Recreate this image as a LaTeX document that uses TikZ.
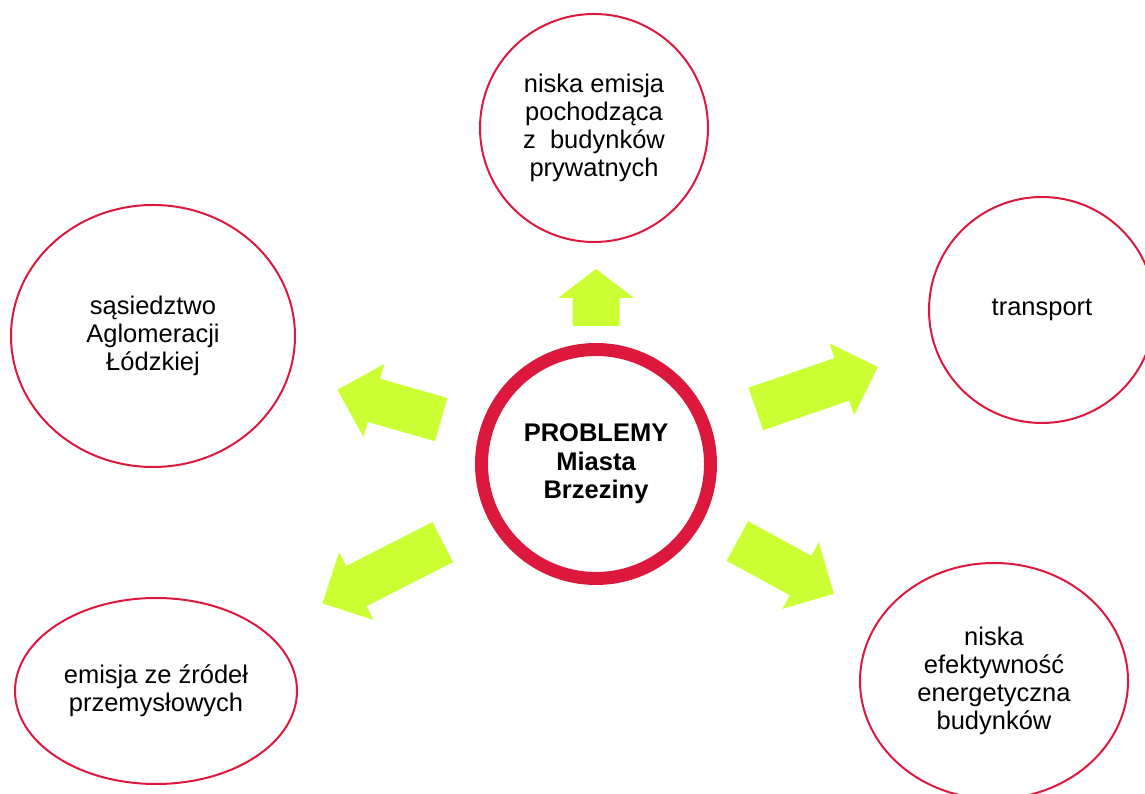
\documentclass[tikz,border=0pt]{standalone}
\usepackage{fontspec}
\setmainfont{Liberation Sans}
\usetikzlibrary{shapes.geometric,calc}
\definecolor{ringred}{RGB}{220,25,60}
\definecolor{limegreen}{RGB}{204,255,51}
\tikzset{
  problem/.style={ellipse,draw=ringred,line width=2pt,align=center,inner sep=0pt},
  arrowfill/.style={fill=limegreen}
}
\begin{document}
\begin{tikzpicture}[x=1pt,y=1pt,font=\fontsize{25.5}{28}\selectfont]
        \useasboundingbox (0,0) rectangle (1145,794);
        \node[circle,draw=ringred,line width=13pt,minimum size=229pt,align=center,font=\fontsize{25.5}{28.5}\selectfont\bfseries] (main) at (596,330) {PROBLEMY\\Miasta\\Brzeziny};
        \node[problem,minimum width=228pt,minimum height=228pt] (emisja) at (594,666) {niska emisja\\pochodząca\\z~ budynków\\prywatnych};
        \node[problem,minimum width=226pt,minimum height=226pt] (transport) at (1042,484) {transport};
        \node[problem,minimum width=284pt,minimum height=262pt] (sasiedztwo) at (153,458) {sąsiedztwo\\Aglomeracji\\Łódzkiej};
        \node[problem,minimum width=282pt,minimum height=186pt] (przemysl) at (156,103) {emisja ze źródeł\\przemysłowych};
        \node[problem,minimum width=268pt,minimum height=236pt] (efektywnosc) at (994,113) {niska\\efektywność\\energetyczna\\budynków};
        % arrows: angle/distance/length/head
        \foreach \ang/\dist/\len/\hl/\hw/\sw in {90/138/57/29/38/23.5,19/169/129/38/38/22.5,164/161/108/38/38/22.5,207/172/135/38/38/22.5,-28.6/161/110/38/38/22.5}
            \fill[arrowfill,shift={($(main.center)+(\ang:\dist)$)},rotate=\ang] (0,-\sw)--(\len-\hl,-\sw)--(\len-\hl,-\hw)--(\len,0)--(\len-\hl,\hw)--(\len-\hl,\sw)--(0,\sw)--cycle;
    \end{tikzpicture}
\end{document}
